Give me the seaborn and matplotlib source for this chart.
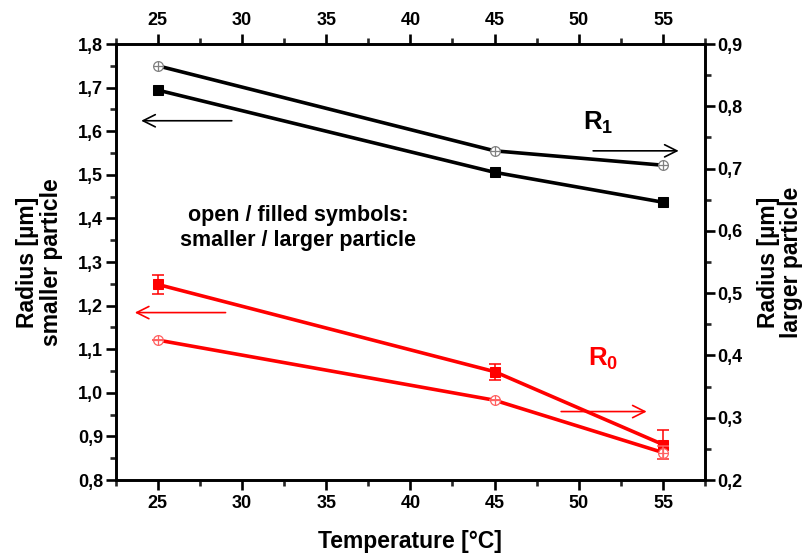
import matplotlib
matplotlib.use("Agg")
import matplotlib.pyplot as plt
from matplotlib.ticker import MultipleLocator, FuncFormatter
import seaborn as sns
import pandas as pd

# data (x = temperature in °C)
temps = [25, 45, 55]
r1_small = [1.750, 1.555, 1.522]      # black open, left axis
r1_large = [0.826, 0.694, 0.646]      # black filled, right axis
r0_small = [1.121, 0.983, 0.863]      # red open, left axis
r0_small_err = [0.0, 0.0, 0.014]
r0_large = [0.514, 0.374, 0.257]      # red filled, right axis
r0_large_err = [0.015, 0.013, 0.024]

sns.set_theme(style="ticks")
plt.rcParams["font.family"] = ["Liberation Sans", "DejaVu Sans"]
plt.rcParams["font.weight"] = "bold"
plt.rcParams["text.color"] = "black"
plt.rcParams["axes.labelcolor"] = "black"
plt.rcParams["mathtext.fontset"] = "custom"
plt.rcParams["mathtext.rm"] = "Liberation Sans:bold"
plt.rcParams["mathtext.it"] = "Liberation Sans:bold"
plt.rcParams["mathtext.bf"] = "Liberation Sans:bold"

fig = plt.figure(figsize=(8.09, 5.53), dpi=100)
ax = fig.add_axes([0.143, 0.132, 0.7285, 0.7884])
ax2 = ax.twinx()

df = pd.DataFrame({"T": temps, "r1s": r1_small, "r1l": r1_large,
                   "r0s": r0_small, "r0l": r0_large})

RED = "#ff0000"
LW = 2.6

# left axis: open symbols (smaller particle)
sns.lineplot(data=df, x="T", y="r1s", ax=ax, color="black", lw=LW,
             marker="o", markersize=7, markerfacecolor="white",
             markeredgecolor="#808080", markeredgewidth=0.9)
sns.scatterplot(data=df, x="T", y="r1s", ax=ax, marker="+", color="#808080",
                s=45, linewidth=0.9, zorder=5)
ax.errorbar(temps, r0_small, yerr=r0_small_err, fmt="none", ecolor="#ff6060",
            elinewidth=1.1, capsize=4, capthick=1.1, zorder=3)
sns.lineplot(data=df, x="T", y="r0s", ax=ax, color=RED, lw=LW,
             marker="o", markersize=7, markerfacecolor="white",
             markeredgecolor="#ff6060", markeredgewidth=0.9)
sns.scatterplot(data=df, x="T", y="r0s", ax=ax, marker="+", color="#ff6060",
                s=45, linewidth=0.9, zorder=5)

# right axis: filled symbols (larger particle)
sns.lineplot(data=df, x="T", y="r1l", ax=ax2, color="black", lw=LW,
             marker="s", markersize=6.5, markerfacecolor="black",
             markeredgecolor="black")
ax2.errorbar(temps, r0_large, yerr=r0_large_err, fmt="none", ecolor=RED,
             elinewidth=1.1, capsize=4, capthick=1.1, zorder=3)
sns.lineplot(data=df, x="T", y="r0l", ax=ax2, color=RED, lw=LW,
             marker="s", markersize=6.5, markerfacecolor=RED,
             markeredgecolor=RED)

ax.set_xlim(22.5, 57.5)
ax.set_ylim(0.8, 1.8)
ax2.set_ylim(0.2, 0.9)

comma = FuncFormatter(lambda v, _: f"{v:.1f}".replace(".", ","))
ax.xaxis.set_major_locator(MultipleLocator(5))
ax.xaxis.set_minor_locator(MultipleLocator(2.5))
ax.yaxis.set_major_locator(MultipleLocator(0.1))
ax.yaxis.set_minor_locator(MultipleLocator(0.05))
ax2.yaxis.set_major_locator(MultipleLocator(0.1))
ax2.yaxis.set_minor_locator(MultipleLocator(0.05))
ax.yaxis.set_major_formatter(comma)
ax2.yaxis.set_major_formatter(comma)

for a in (ax, ax2):
    for s in a.spines.values():
        s.set_linewidth(1.9)
        s.set_color("black")
    a.tick_params(which="major", direction="out", length=7, width=1.9,
                  labelsize=13, colors="black")
    a.tick_params(which="minor", direction="out", length=4, width=1.9)
ax.tick_params(axis="x", which="both", top=True, labeltop=True)
ax.tick_params(axis="y", pad=2)
ax2.tick_params(axis="y", pad=2)

ax.set_xlabel("Temperature [°C]", fontsize=16.5, fontweight="bold",
              labelpad=13)
ax.set_ylabel("Radius [µm]\nsmaller particle", fontsize=16.5,
              fontweight="bold", labelpad=11, linespacing=1.05)
ax2.set_ylabel("Radius [µm]\nlarger particle", fontsize=16.5,
               fontweight="bold", labelpad=10, linespacing=1.05)

# direction arrows and labels
arrow_k = dict(arrowstyle="->", lw=1.2, mutation_scale=22)
ax.annotate("", xy=(23.85, 1.624), xytext=(29.56, 1.624),
            arrowprops=dict(color="black", **arrow_k))
ax.annotate("", xy=(56.1, 1.555), xytext=(50.69, 1.555),
            arrowprops=dict(color="black", **arrow_k))
ax.annotate("", xy=(23.47, 1.184), xytext=(29.19, 1.184),
            arrowprops=dict(color=RED, **arrow_k))
ax.annotate("", xy=(54.2, 0.957), xytext=(48.79, 0.957),
            arrowprops=dict(color=RED, **arrow_k))

ax.text(50.26, 1.603, "R$_1$", fontsize=18.5, color="black",
        ha="left", va="baseline")
ax.text(50.55, 1.061, "R$_0$", fontsize=18.5, color=RED,
        ha="left", va="baseline")
ax.text(33.35, 1.378, "open / filled symbols:\nsmaller / larger particle",
        fontsize=15.5, fontweight="bold", ha="center", va="center",
        linespacing=1.3)

ax.set_zorder(ax2.get_zorder() + 1)
ax.patch.set_visible(False)

fig.savefig("out.png", dpi=100)
